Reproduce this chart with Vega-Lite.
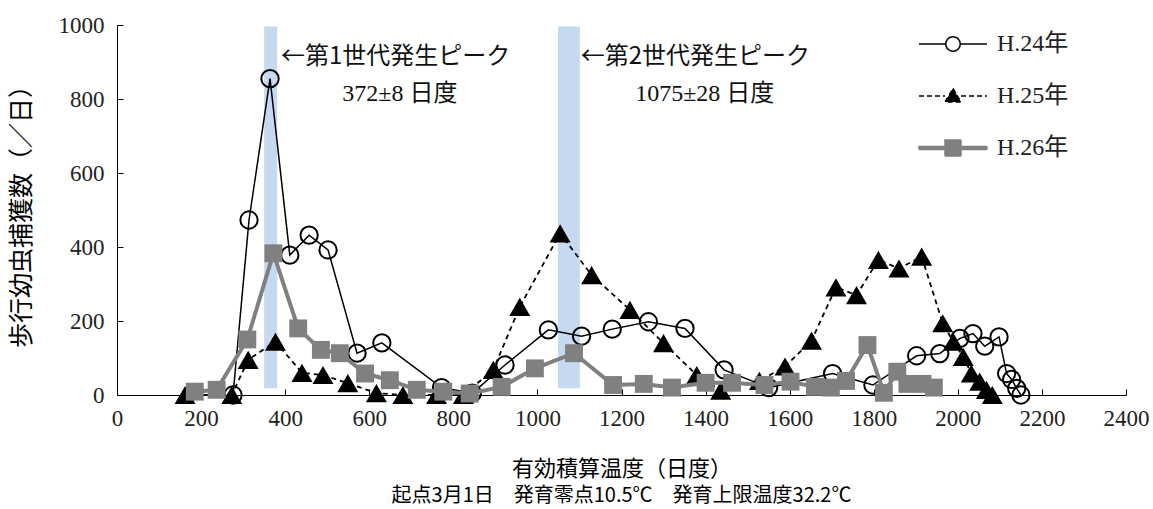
{
  "$schema": "https://vega.github.io/schema/vega-lite/v6.json",
  "width": 1009,
  "height": 370,
  "autosize": {"type": "none"},
  "padding": {"left": 117, "top": 25, "right": 27, "bottom": 114},
  "background": "white",
  "config": {"view": {"stroke": null}, "font": "Noto Sans CJK JP"},
  "title": {
    "text": "起点3月1日　発育零点10.5℃　発育上限温度32.2℃",
    "orient": "bottom",
    "anchor": "middle",
    "font": "Noto Sans CJK JP",
    "fontSize": 20,
    "fontWeight": "normal",
    "color": "#000000",
    "offset": 7
  },
  "datasets": {
    "catch": [
      {"year": "H.24年", "gdd": 276, "count": 0},
      {"year": "H.24年", "gdd": 314, "count": 473},
      {"year": "H.24年", "gdd": 364, "count": 855},
      {"year": "H.24年", "gdd": 411, "count": 378},
      {"year": "H.24年", "gdd": 457, "count": 432},
      {"year": "H.24年", "gdd": 502, "count": 392},
      {"year": "H.24年", "gdd": 571, "count": 113},
      {"year": "H.24年", "gdd": 630, "count": 141},
      {"year": "H.24年", "gdd": 772, "count": 20},
      {"year": "H.24年", "gdd": 845, "count": 5},
      {"year": "H.24年", "gdd": 923, "count": 81},
      {"year": "H.24年", "gdd": 1026, "count": 176},
      {"year": "H.24年", "gdd": 1105, "count": 159},
      {"year": "H.24年", "gdd": 1178, "count": 178},
      {"year": "H.24年", "gdd": 1264, "count": 198},
      {"year": "H.24年", "gdd": 1351, "count": 180},
      {"year": "H.24年", "gdd": 1444, "count": 68},
      {"year": "H.24年", "gdd": 1550, "count": 20},
      {"year": "H.24年", "gdd": 1702, "count": 58},
      {"year": "H.24年", "gdd": 1798, "count": 27},
      {"year": "H.24年", "gdd": 1902, "count": 106},
      {"year": "H.24年", "gdd": 1957, "count": 112},
      {"year": "H.24年", "gdd": 2005, "count": 153},
      {"year": "H.24年", "gdd": 2036, "count": 166},
      {"year": "H.24年", "gdd": 2064, "count": 132},
      {"year": "H.24年", "gdd": 2098, "count": 157},
      {"year": "H.24年", "gdd": 2116, "count": 58},
      {"year": "H.24年", "gdd": 2128, "count": 42},
      {"year": "H.24年", "gdd": 2140, "count": 18},
      {"year": "H.24年", "gdd": 2150, "count": 0},
      {"year": "H.25年", "gdd": 162, "count": 0},
      {"year": "H.25年", "gdd": 273, "count": 0},
      {"year": "H.25年", "gdd": 312, "count": 95},
      {"year": "H.25年", "gdd": 377, "count": 144},
      {"year": "H.25年", "gdd": 440, "count": 60},
      {"year": "H.25年", "gdd": 490, "count": 54},
      {"year": "H.25年", "gdd": 549, "count": 32},
      {"year": "H.25年", "gdd": 617, "count": 5},
      {"year": "H.25年", "gdd": 680, "count": 0},
      {"year": "H.25年", "gdd": 760, "count": 0},
      {"year": "H.25年", "gdd": 824, "count": 0},
      {"year": "H.25年", "gdd": 895, "count": 68},
      {"year": "H.25年", "gdd": 958, "count": 238},
      {"year": "H.25年", "gdd": 1054, "count": 437},
      {"year": "H.25年", "gdd": 1129, "count": 324},
      {"year": "H.25年", "gdd": 1220, "count": 230},
      {"year": "H.25年", "gdd": 1300, "count": 140},
      {"year": "H.25年", "gdd": 1379, "count": 54},
      {"year": "H.25年", "gdd": 1436, "count": 12},
      {"year": "H.25年", "gdd": 1528, "count": 38},
      {"year": "H.25年", "gdd": 1589, "count": 77},
      {"year": "H.25年", "gdd": 1652, "count": 147},
      {"year": "H.25年", "gdd": 1710, "count": 291},
      {"year": "H.25年", "gdd": 1759, "count": 270},
      {"year": "H.25年", "gdd": 1811, "count": 365},
      {"year": "H.25年", "gdd": 1860, "count": 342},
      {"year": "H.25年", "gdd": 1914, "count": 374},
      {"year": "H.25年", "gdd": 1964, "count": 194},
      {"year": "H.25年", "gdd": 1989, "count": 144},
      {"year": "H.25年", "gdd": 2013, "count": 103},
      {"year": "H.25年", "gdd": 2032, "count": 58},
      {"year": "H.25年", "gdd": 2052, "count": 36},
      {"year": "H.25年", "gdd": 2068, "count": 14},
      {"year": "H.25年", "gdd": 2082, "count": 0},
      {"year": "H.26年", "gdd": 185, "count": 9},
      {"year": "H.26年", "gdd": 237, "count": 14},
      {"year": "H.26年", "gdd": 310, "count": 150},
      {"year": "H.26年", "gdd": 372, "count": 383},
      {"year": "H.26年", "gdd": 431, "count": 180},
      {"year": "H.26年", "gdd": 485, "count": 122},
      {"year": "H.26年", "gdd": 530, "count": 113},
      {"year": "H.26年", "gdd": 590, "count": 58},
      {"year": "H.26年", "gdd": 649, "count": 40},
      {"year": "H.26年", "gdd": 713, "count": 14},
      {"year": "H.26年", "gdd": 776, "count": 9},
      {"year": "H.26年", "gdd": 839, "count": 4},
      {"year": "H.26年", "gdd": 915, "count": 22},
      {"year": "H.26年", "gdd": 994, "count": 72},
      {"year": "H.26年", "gdd": 1087, "count": 113},
      {"year": "H.26年", "gdd": 1180, "count": 27},
      {"year": "H.26年", "gdd": 1253, "count": 30},
      {"year": "H.26年", "gdd": 1320, "count": 20},
      {"year": "H.26年", "gdd": 1400, "count": 33},
      {"year": "H.26年", "gdd": 1463, "count": 33},
      {"year": "H.26年", "gdd": 1540, "count": 27},
      {"year": "H.26年", "gdd": 1602, "count": 36},
      {"year": "H.26年", "gdd": 1660, "count": 22},
      {"year": "H.26年", "gdd": 1698, "count": 20},
      {"year": "H.26年", "gdd": 1734, "count": 38},
      {"year": "H.26年", "gdd": 1785, "count": 135},
      {"year": "H.26年", "gdd": 1824, "count": 6},
      {"year": "H.26年", "gdd": 1856, "count": 63},
      {"year": "H.26年", "gdd": 1880, "count": 30},
      {"year": "H.26年", "gdd": 1916, "count": 30},
      {"year": "H.26年", "gdd": 1943, "count": 20}
    ],
    "peaks": [
      {"generation": "第1世代", "start": 350, "end": 381},
      {"generation": "第2世代", "start": 1049, "end": 1101}
    ],
    "notes": [
      {"line": "←第1世代発生ピーク"},
      {"line": "372±8 日度"},
      {"line": "←第2世代発生ピーク"},
      {"line": "1075±28 日度"}
    ]
  },
  "layer": [
    {
      "data": {"name": "peaks"},
      "mark": {"type": "rect", "fill": "#c6d9f1"},
      "encoding": {
        "x": {
          "field": "start",
          "type": "quantitative",
          "scale": {"domain": [0, 2400], "nice": false, "zero": true},
          "axis": {
            "values": [0, 200, 400, 600, 800, 1000, 1200, 1400, 1600, 1800, 2000, 2200, 2400],
            "format": "d",
            "title": "有効積算温度（日度）",
            "titleFont": "Noto Sans CJK JP",
            "titleFontSize": 22,
            "titleFontWeight": "normal",
            "titleColor": "#000000",
            "titlePadding": 28,
            "labelFont": "Liberation Serif",
            "labelFontSize": 23,
            "labelColor": "#222222",
            "labelFlush": false,
            "labelPadding": 18,
            "tickSize": -6,
            "tickColor": "#000000",
            "domainColor": "#000000",
            "grid": false
          }
        },
        "x2": {"field": "end"},
        "y": {
          "datum": 18,
          "type": "quantitative",
          "scale": {"domain": [0, 1000], "nice": false},
          "axis": {
            "values": [0, 200, 400, 600, 800, 1000],
            "format": "d",
            "title": "歩行幼虫捕獲数（／日）",
            "titleFont": "Noto Sans CJK JP",
            "titleFontSize": 25,
            "titleFontWeight": "normal",
            "titleColor": "#000000",
            "titlePadding": 24,
            "labelFont": "Liberation Serif",
            "labelFontSize": 23,
            "labelColor": "#222222",
            "labelPadding": 19,
            "tickSize": -6,
            "tickColor": "#000000",
            "domainColor": "#000000",
            "grid": false
          }
        },
        "y2": {"datum": 996}
      }
    },
    {
      "data": {"name": "catch"},
      "transform": [{"filter": "datum.year === 'H.24年'"}],
      "mark": {"type": "line", "color": "#000000", "strokeWidth": 1.5},
      "encoding": {
        "x": {"field": "gdd", "type": "quantitative", "scale": {"domain": [0, 2400]}},
        "y": {"field": "count", "type": "quantitative", "scale": {"domain": [0, 1000]}}
      }
    },
    {
      "data": {"name": "catch"},
      "transform": [{"filter": "datum.year === 'H.24年'"}],
      "mark": {"type": "point", "shape": "circle", "size": 300, "filled": true, "fill": "#ffffff", "fillOpacity": 0, "stroke": "#000000", "strokeWidth": 2, "opacity": 1},
      "encoding": {
        "x": {"field": "gdd", "type": "quantitative", "scale": {"domain": [0, 2400]}},
        "y": {"field": "count", "type": "quantitative", "scale": {"domain": [0, 1000]}}
      }
    },
    {
      "data": {"name": "catch"},
      "transform": [{"filter": "datum.year === 'H.25年'"}],
      "mark": {"type": "line", "color": "#000000", "strokeWidth": 1.8, "strokeDash": [5, 4]},
      "encoding": {
        "x": {"field": "gdd", "type": "quantitative", "scale": {"domain": [0, 2400]}},
        "y": {"field": "count", "type": "quantitative", "scale": {"domain": [0, 1000]}}
      }
    },
    {
      "data": {"name": "catch"},
      "transform": [{"filter": "datum.year === 'H.25年'"}],
      "mark": {"type": "point", "shape": "triangle-up", "size": 440, "filled": true, "fill": "#000000", "strokeWidth": 0, "opacity": 1},
      "encoding": {
        "x": {"field": "gdd", "type": "quantitative", "scale": {"domain": [0, 2400]}},
        "y": {"field": "count", "type": "quantitative", "scale": {"domain": [0, 1000]}}
      }
    },
    {
      "data": {"name": "catch"},
      "transform": [{"filter": "datum.year === 'H.26年'"}],
      "mark": {"type": "line", "color": "#808080", "strokeWidth": 4},
      "encoding": {
        "x": {"field": "gdd", "type": "quantitative", "scale": {"domain": [0, 2400]}},
        "y": {"field": "count", "type": "quantitative", "scale": {"domain": [0, 1000]}}
      }
    },
    {
      "data": {"name": "catch"},
      "transform": [{"filter": "datum.year === 'H.26年'"}],
      "mark": {"type": "point", "shape": "square", "size": 320, "filled": true, "fill": "#808080", "strokeWidth": 0, "opacity": 1},
      "encoding": {
        "x": {"field": "gdd", "type": "quantitative", "scale": {"domain": [0, 2400]}},
        "y": {"field": "count", "type": "quantitative", "scale": {"domain": [0, 1000]}}
      }
    },
    {
      "data": {"name": "catch"},
      "transform": [{"filter": "datum.count < 0"}],
      "mark": {"type": "point", "filled": true, "opacity": 1, "strokeWidth": 1.5},
      "encoding": {
        "x": {"field": "gdd", "type": "quantitative", "scale": {"domain": [0, 2400]}},
        "y": {"field": "count", "type": "quantitative", "scale": {"domain": [0, 1000]}},
        "shape": {
          "field": "year",
          "type": "nominal",
          "scale": {
            "domain": ["H.24年", "H.25年", "H.26年"],
            "range": [
              "M-3.4,0L-0.72,0M0.72,0L3.4,0M0.72,0A0.72,0.72,0,1,1,-0.72,0A0.72,0.72,0,1,1,0.72,0Z",
              "M-3.4,0L-0.8,0M0.8,0L3.4,0M0,-0.75L0.8,0.6L-0.8,0.6Z",
              "M-3.4,-0.15L3.4,-0.15L3.4,0.15L-3.4,0.15ZM-0.8,-0.8L0.8,-0.8L0.8,0.8L-0.8,0.8Z"
            ]
          },
          "legend": {
            "title": null,
            "orient": "none",
            "legendX": 824,
            "legendY": 7,
            "symbolSize": 400,
            "labelFont": "Liberation Serif, Noto Sans CJK JP",
            "labelFontSize": 24,
            "labelColor": "#222222",
            "labelOffset": 32,
            "rowPadding": 28
          }
        },
        "fill": {
          "field": "year",
          "type": "nominal",
          "scale": {"domain": ["H.24年", "H.25年", "H.26年"], "range": ["#ffffff", "#000000", "#808080"]}
        },
        "stroke": {
          "field": "year",
          "type": "nominal",
          "scale": {"domain": ["H.24年", "H.25年", "H.26年"], "range": ["#000000", "#000000", "#808080"]}
        },
        "strokeDash": {
          "field": "year",
          "type": "nominal",
          "scale": {"domain": ["H.24年", "H.25年", "H.26年"], "range": [[1, 0], [5, 3], [1, 0]]}
        }
      }
    },
    {
      "data": {"name": "notes"},
      "transform": [{"filter": "datum.line === '←第1世代発生ピーク'"}],
      "mark": {"type": "text", "align": "left", "baseline": "middle", "font": "Noto Sans CJK JP", "fontSize": 24, "color": "#111111"},
      "encoding": {"x": {"datum": 390}, "y": {"datum": 914}, "text": {"field": "line"}}
    },
    {
      "data": {"name": "notes"},
      "transform": [{"filter": "datum.line === '372±8 日度'"}],
      "mark": {"type": "text", "align": "center", "baseline": "middle", "font": "Liberation Serif, Noto Sans CJK JP", "fontSize": 24, "color": "#111111"},
      "encoding": {"x": {"datum": 673}, "y": {"datum": 814}, "text": {"field": "line"}}
    },
    {
      "data": {"name": "notes"},
      "transform": [{"filter": "datum.line === '←第2世代発生ピーク'"}],
      "mark": {"type": "text", "align": "left", "baseline": "middle", "font": "Noto Sans CJK JP", "fontSize": 24, "color": "#111111"},
      "encoding": {"x": {"datum": 1103}, "y": {"datum": 914}, "text": {"field": "line"}}
    },
    {
      "data": {"name": "notes"},
      "transform": [{"filter": "datum.line === '1075±28 日度'"}],
      "mark": {"type": "text", "align": "center", "baseline": "middle", "font": "Liberation Serif, Noto Sans CJK JP", "fontSize": 24, "color": "#111111"},
      "encoding": {"x": {"datum": 1398}, "y": {"datum": 814}, "text": {"field": "line"}}
    }
  ]
}
